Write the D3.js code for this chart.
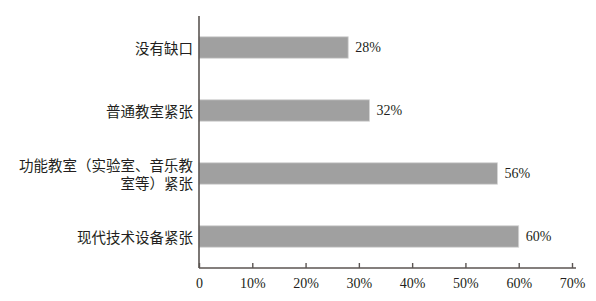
<!DOCTYPE html>
<html>
<head>
<meta charset="utf-8">
<script src="https://cdn.jsdelivr.net/npm/d3@7"></script>
<style>
  body { margin: 0; background: #fff; }
  svg { display: block; }
</style>
</head>
<body>
<svg id="chart" width="596" height="301"></svg>
<script>
// categories top to bottom, each as label lines
const categories = [
  ['没有缺口'],
  ['普通教室紧张'],
  ['功能教室（实验室、音乐教', '室等）紧张'],
  ['现代技术设备紧张']
];
const values = [28, 32, 56, 60];
const xTicks = [0, 10, 20, 30, 40, 50, 60, 70];

const svg = d3.select('#chart');
const margin = {top: 16, right: 24, bottom: 33, left: 199};
const width = 596 - margin.left - margin.right;
const height = 301 - margin.top - margin.bottom;

const axisColor = '#5b5552';
const textColor = '#231f20';
const cjkFont = '"Noto Sans CJK SC", sans-serif';
const numFont = '"Liberation Serif", "DejaVu Serif", serif';

const g = svg.append('g')
  .attr('transform', `translate(${margin.left},${margin.top})`);

const x = d3.scaleLinear().domain([0, 70]).range([0, 373]);
const y = d3.scaleBand()
  .domain(d3.range(categories.length))
  .range([0, height])
  .paddingInner(0.66)
  .paddingOuter(0.33);

// bars
g.selectAll('.bar')
  .data(values)
  .join('rect')
  .attr('class', 'bar')
  .attr('x', 0)
  .attr('y', (d, i) => y(i))
  .attr('width', d => x(d))
  .attr('height', y.bandwidth())
  .attr('fill', '#a0a0a0')
  .attr('stroke', '#d4d4d4')
  .attr('stroke-width', 0.8);

// value labels
g.selectAll('.val')
  .data(values)
  .join('text')
  .attr('class', 'val')
  .attr('x', d => x(d) + 7)
  .attr('y', (d, i) => y(i) + y.bandwidth() / 2)
  .attr('dominant-baseline', 'central')
  .attr('font-family', numFont)
  .attr('font-size', '14px')
  .attr('fill', textColor)
  .text(d => d + '%');

// category labels
const lineH = 17.5;
categories.forEach((lines, i) => {
  const cy = y(i) + y.bandwidth() / 2;
  const t = g.append('text')
    .attr('text-anchor', 'end')
    .attr('font-family', cjkFont)
    .attr('font-size', '14.5px')
    .attr('fill', textColor);
  lines.forEach((ln, j) => {
    t.append('tspan')
      .attr('x', -6)
      .attr('y', cy + (j - (lines.length - 1) / 2) * lineH)
      .attr('dominant-baseline', 'central')
      .text(ln);
  });
});

// x axis with ticks pointing up
const xAxis = g.append('g')
  .attr('transform', `translate(0,${height})`)
  .call(d3.axisBottom(x)
    .tickValues(xTicks)
    .tickSizeInner(-5)
    .tickSizeOuter(0)
    .tickPadding(10)
    .tickFormat(d => d === 0 ? '0' : d + '%'));
xAxis.select('.domain')
  .attr('d', `M0,0H${x(70) + 4}`)
  .attr('stroke', axisColor)
  .attr('stroke-width', 1.6);
xAxis.selectAll('.tick line')
  .attr('stroke', axisColor)
  .attr('stroke-width', 1.4);
xAxis.selectAll('.tick text')
  .attr('font-family', numFont)
  .attr('font-size', '14px')
  .attr('fill', textColor);

// y axis line only
g.append('line')
  .attr('x1', 0).attr('x2', 0)
  .attr('y1', 0).attr('y2', height)
  .attr('stroke', axisColor)
  .attr('stroke-width', 1.6);
</script>
</body>
</html>
